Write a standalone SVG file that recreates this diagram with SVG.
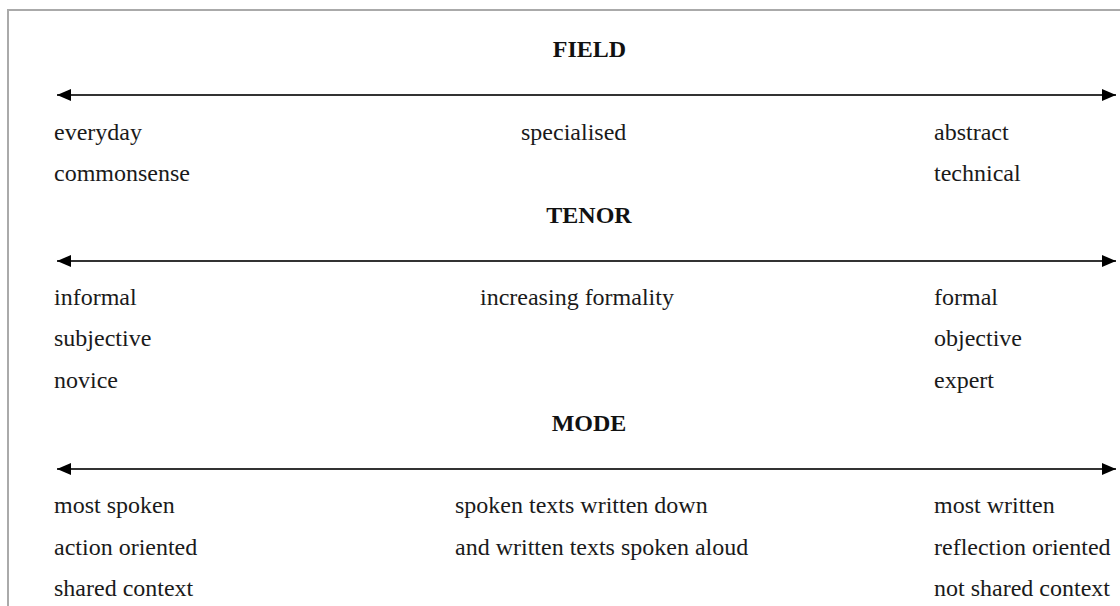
<svg xmlns="http://www.w3.org/2000/svg" width="1120" height="606" viewBox="0 0 1120 606">
<defs>
<style>
.t{font-family:"Liberation Serif","Times New Roman",serif;font-size:24px;fill:#1a1a1a}
.h{font-family:"Liberation Serif","Times New Roman",serif;font-size:24px;font-weight:bold;fill:#111;text-anchor:middle}
.ax{stroke:#333;stroke-width:1.8;fill:none;marker-start:url(#ah);marker-end:url(#ah)}
</style>
<marker id="ah" viewBox="0 0 14 12" refX="14" refY="6" markerWidth="14" markerHeight="12" markerUnits="userSpaceOnUse" orient="auto-start-reverse">
<path d="M0,0 L14,6 L0,12 Z" fill="#000"/>
</marker>
</defs>
<rect width="1120" height="606" fill="#fff"/>
<path d="M8,606 V10 H1120" fill="none" stroke="#aaa" stroke-width="2"/>
<g id="connectors">
<line class="ax" x1="57" y1="95" x2="1116" y2="95"/>
<line class="ax" x1="57" y1="261" x2="1116" y2="261"/>
<line class="ax" x1="57" y1="469" x2="1116" y2="469"/>
</g>
<g id="field">
<text class="h" x="589.5" y="57">FIELD</text>
<text class="t" x="54" y="140">everyday</text>
<text class="t" x="54" y="181">commonsense</text>
<text class="t" x="521" y="140">specialised</text>
<text class="t" x="934" y="140">abstract</text>
<text class="t" x="934" y="181">technical</text>
</g>
<g id="tenor">
<text class="h" x="589" y="223">TENOR</text>
<text class="t" x="54" y="305">informal</text>
<text class="t" x="54" y="346">subjective</text>
<text class="t" x="54" y="388">novice</text>
<text class="t" x="480" y="305">increasing formality</text>
<text class="t" x="934" y="305">formal</text>
<text class="t" x="934" y="346">objective</text>
<text class="t" x="934" y="388">expert</text>
</g>
<g id="mode">
<text class="h" x="589" y="431">MODE</text>
<text class="t" x="54" y="513">most spoken</text>
<text class="t" x="54" y="555">action oriented</text>
<text class="t" x="54" y="596">shared context</text>
<text class="t" x="455" y="513">spoken texts written down</text>
<text class="t" x="455" y="555">and written texts spoken aloud</text>
<text class="t" x="934" y="513">most written</text>
<text class="t" x="934" y="555">reflection oriented</text>
<text class="t" x="934" y="596">not shared context</text>
</g>
</svg>
